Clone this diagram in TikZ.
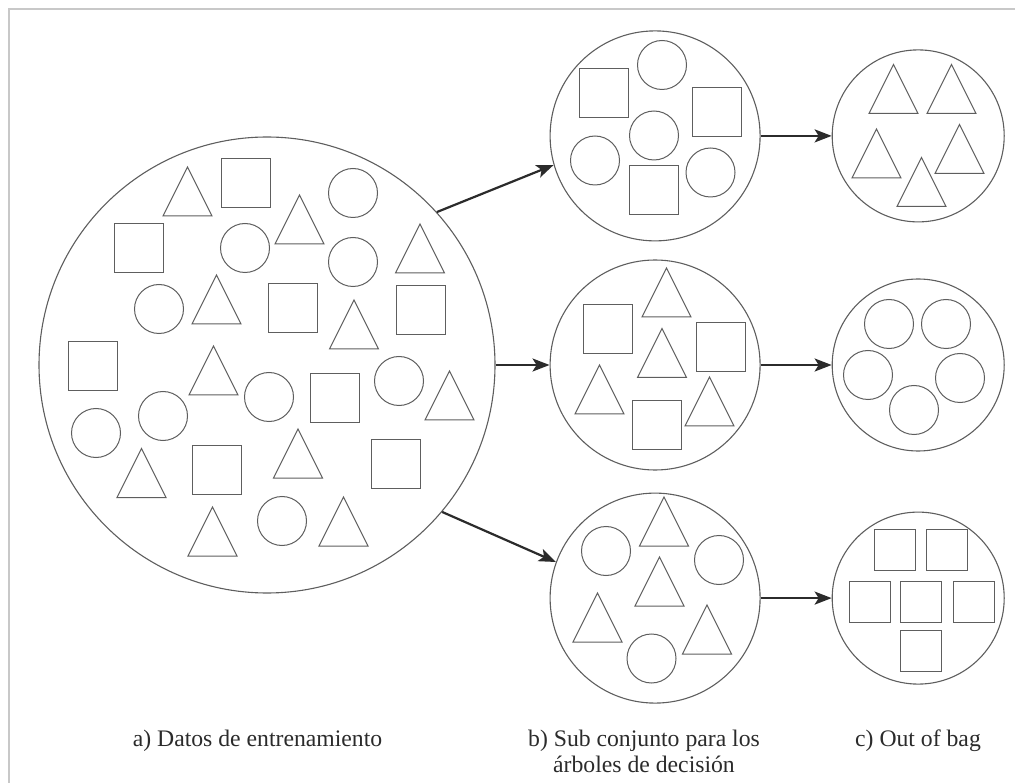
\documentclass[tikz,border=0pt]{standalone}
\usepackage{fontspec}
\setmainfont{Liberation Serif}
\usetikzlibrary{positioning,arrows.meta}
\definecolor{rimgray}{HTML}{5E5E5E}
\definecolor{framegray}{HTML}{C8C8C8}
\definecolor{inkgray}{HTML}{2B2B2B}

\begin{document}
\begin{tikzpicture}[x=1pt, y=-1pt,
		bag/.style={circle, draw=rimgray, line width=1.1pt, inner sep=0pt},
		sq/.style={draw=rimgray, line width=1pt, minimum size=49pt, inner sep=0pt},
		sqsmall/.style={sq, minimum size=41pt},
		ball/.style={circle, draw=rimgray, line width=1pt, minimum size=49pt, inner sep=0pt},
		tri/.pic={\draw[rimgray, line width=1pt] (-24.5,24.5) -- (24.5,24.5) -- (0,-24.5) -- cycle;},
		lbl/.style={text=inkgray, font=\fontsize{23.7}{26}\selectfont, align=center, inner sep=0pt},
		flow/.style={-{Stealth[length=17pt, width=13pt, inset=4pt]}, line width=2.2pt, draw=inkgray}]
		\useasboundingbox (0,0) rectangle (1015,783);
		\draw[framegray, line width=2pt] (9,783) -- (9,9) -- (1015,9);

		% the bags
		\node [bag, minimum size=456pt] (A) at (267,365) {};
		\node [bag, minimum size=210pt, right=54pt of A] (B2) {};
		\node [bag, minimum size=210pt, above=18pt of B2] (B1) {};
		\node [bag, minimum size=210pt, below=22pt of B2] (B3) {};
		\node [bag, minimum size=172pt, right=71pt of B1] (C1) {};
		\node [bag, minimum size=172pt, right=71pt of B2] (C2) {};
		\node [bag, minimum size=172pt, right=71pt of B3] (C3) {};

		% a) training data
		\foreach \x/\y [count=\i] in {246/183, 139/248, 293/308, 421/310, 93/366, 335/398, 217/470, 396/464}
			\node [sq] (Asq\i) at (\x,\y) {};
		\foreach \x/\y [count=\i] in {353/193, 245/248, 353/262, 159/309, 269/397, 399/381, 96/433, 163/416, 282/521}
			\node [ball] (Aci\i) at (\x,\y) {};
		\foreach \x/\y in {187.5/191.5, 299.5/219.5, 420/248.5, 216.5/299.5, 354/324.5, 213.5/370.5,
			449.5/395.5, 141.5/473, 298/453.5, 212.5/531.5, 343.5/521.5}
			\pic at (\x,\y) {tri};

		% b) subsets
		\foreach \x/\y [count=\i] in {603.5/93.5, 716.5/112, 654/190.5}
			\node [sq] (B1sq\i) at (\x,\y) {};
		\foreach \x/\y [count=\i] in {662/65, 654/135.5, 595/160.5, 710.5/172.5}
			\node [ball] (B1ci\i) at (\x,\y) {};
		\foreach \x/\y [count=\i] in {608/329.5, 721/347, 656.5/425.5}
			\node [sq] (B2sq\i) at (\x,\y) {};
		\foreach \x/\y in {666.5/292.5, 662/353, 599.5/389.5, 709.5/401.5}
			\pic at (\x,\y) {tri};
		\foreach \x/\y [count=\i] in {606/551, 719/560, 651.5/658.5}
			\node [ball] (B3ci\i) at (\x,\y) {};
		\foreach \x/\y in {664/521.5, 659.5/581.5, 597.5/617.5, 707/629.5}
			\pic at (\x,\y) {tri};

		% c) out of bag
		\foreach \x/\y in {893.5/89, 951.5/89, 876.5/153.5, 959.5/149, 921.5/182}
			\pic at (\x,\y) {tri};
		\foreach \x/\y [count=\i] in {889/324, 946/324, 868/375, 960/378, 914/410}
			\node [ball] (C2ci\i) at (\x,\y) {};
		\foreach \x/\y [count=\i] in {894.5/549.5, 946.5/549.5, 870/601.5, 920.5/601.5, 973.5/601.5, 920.5/650.5}
			\node [sqsmall] (C3sq\i) at (\x,\y) {};

		\draw[flow] (A.42) -- (B1.196);
		\draw[flow] (A) -- (B2);
		\draw[flow] (A.-40) -- (B3.160);
		\draw[flow] (B1) -- (C1);
		\draw[flow] (B2) -- (C2);
		\draw[flow] (B3) -- (C3);

		\node [lbl, anchor=base] (la) at (257.5,746) {a) Datos de entrenamiento};
		\node [lbl, anchor=base] (lb) at (644,772) {b) Sub conjunto para los\\árboles de decisión};
		\node [lbl, anchor=base] (lc) at (918,746) {c) Out of bag};
	\end{tikzpicture}
\end{document}
